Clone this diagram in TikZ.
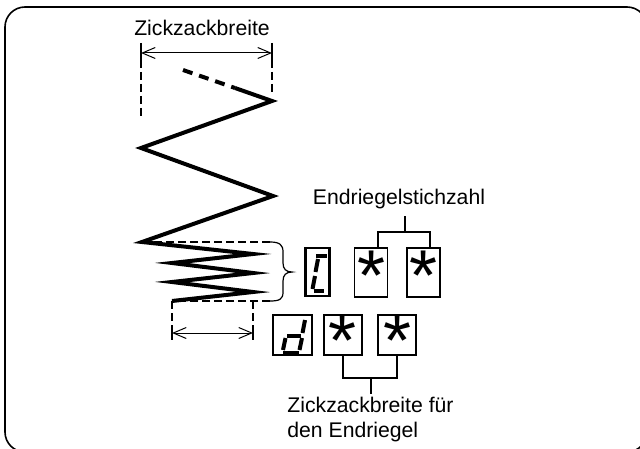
\documentclass[tikz,border=0pt]{standalone}
\usepackage{fontspec}
\setmainfont{Liberation Sans}
\usetikzlibrary{arrows.meta,positioning}
\tikzset{
  lbl/.style={font=\fontsize{10.6}{12.5}\selectfont, inner sep=0pt},
  frame/.style={line width=0.8pt, rounded corners=10pt},
  stitch/.style={line width=2pt},
  guide/.style={line width=0.6pt, dash pattern=on 4pt off 2pt},
  line/.style={line width=0.6pt},
  dim/.style={line width=0.5pt, {Straight Barb[length=6.5pt,width=5.5pt]}-{Straight Barb[length=6.5pt,width=5.5pt]}},
  dig/.style={draw, line width=1.1pt, inner sep=0pt, minimum width=#1},
  cell/.style={draw, line width=0.6pt, inner sep=0pt, minimum width=#1},
  seg/.style={line width=2pt},
  star/.style={font=\fontsize{36}{36}\selectfont, inner sep=0pt, anchor=base},
}
\begin{document}
\begin{tikzpicture}[x=0.5pt,y=-0.5pt]
  \useasboundingbox (0,0) rectangle (640,448);
  \clip (0,0) rectangle (640,448);
  \draw[frame] (5,7) rectangle (647,452);

  % zigzag width on top
  \node[lbl] (tzw) at (202,27.5) {Zickzackbreite};
  \coordinate (zl) at (141,53);
  \coordinate (zr) at (272,53);
  \draw[dim] (zl) -- (zr);
  \draw[line] ([yshift=5pt]zl) -- ([yshift=-3.5pt]zl);
  \draw[line] ([yshift=5pt]zr) -- ([yshift=-3.5pt]zr);
  \draw[guide] ([yshift=-3.5pt]zl) -- (141,118);
  \draw[guide] ([yshift=-3.5pt]zr) -- (272,95);

  % the stitches
  \coordinate (a0) at (183,70);
  \coordinate (a1) at (235,88);
  \coordinate (a2) at (272,101);
  \coordinate (a3) at (141,148);
  \coordinate (a4) at (273,196);
  \coordinate (a5) at (142,242);
  \draw[stitch, dash pattern=on 5pt off 3.5pt] (a0) -- (a1);
  \draw[stitch] (a1) -- (a2) -- (a3) -- (a4) -- (a5)
    -- (253,254) -- (172,263) -- (253,273) -- (172,282) -- (253,292) -- (172,301);

  % bar tack area with brace
  \draw[guide] (a5) -- (270,242);
  \draw[line] (270,242) .. controls (280,242) and (283,245) .. (283,252) -- (283,263)
    .. controls (283,269) and (286,272) .. (292,272)
    .. controls (286,272) and (283,275) .. (283,281) -- (283,292)
    .. controls (283,299) and (280,301) .. (270,301);
  \draw[guide] (270,301) -- (172,301);

  % bar tack width
  \coordinate (bl) at (172,333);
  \coordinate (br) at (253,333);
  \draw[guide] (172,301) -- ([yshift=3.5pt]bl);
  \draw[guide] (253,301) -- ([yshift=3.5pt]br);
  \draw[line] ([yshift=3.5pt]bl) -- ([yshift=-3.5pt]bl);
  \draw[line] ([yshift=3.5pt]br) -- ([yshift=-3.5pt]br);
  \draw[dim] (bl) -- (br);

  % display, first row
  \node[dig=12pt, minimum height=24pt] (c1) at (317.5,272) {};
  \node[cell=16.5pt, minimum height=24.5pt] (s11) at (371,272.5) {};
  \node[cell=16.5pt, minimum height=24.5pt] (s12) at (423.5,272.5) {};
  \draw[seg] (316,256) -- (327,256);
  \draw[seg] (318,259) -- (315.5,272);
  \draw[seg] (315,276) -- (312.5,289);
  \draw[seg] (314,291) -- (324,291);
  \node[star] (k11) at ([yshift=-13.85pt]s11.center) {*};
  \node[star] (k12) at ([yshift=-13.85pt]s12.center) {*};

  % display, second row
  \node[dig=19.5pt, minimum height=20pt] (d1) at (292.5,335) {};
  \node[cell=19pt, minimum height=20pt] (s21) at (343,335) {};
  \node[cell=19pt, minimum height=20pt] (s22) at (397,335) {};
  \draw[seg] (305,320) -- (302.5,333);
  \draw[seg] (302,338) -- (299.5,350);
  \draw[seg] (283,352.5) -- (299,352.5);
  \draw[seg] (285.5,338) -- (283,350);
  \draw[seg] (287,335.5) -- (301,335.5);
  \node[star] (k21) at ([yshift=-15.1pt]s21.center) {*};
  \node[star] (k22) at ([yshift=-15.1pt]s22.center) {*};

  % labels with brackets
  \node[lbl] (tnum) at (399,199.5) {Endriegelstichzahl};
  \coordinate (bj1) at (405,232);
  \draw[line] ([xshift=3.5pt]s11.north) |- (bj1) -| ([xshift=3.25pt]s12.north);
  \draw[line] (bj1) -- ([yshift=-3pt]tnum.south -| bj1);

  \node[lbl, align=left, anchor=north west] (twid) at (287,397) {Zickzackbreite für\\den Endriegel};
  \coordinate (bj2) at (371,378);
  \draw[line] (s21.south) |- (bj2) -| (s22.south);
  \draw[line] (bj2) -- ([yshift=1.5pt]twid.north -| bj2);
\end{tikzpicture}
\end{document}
